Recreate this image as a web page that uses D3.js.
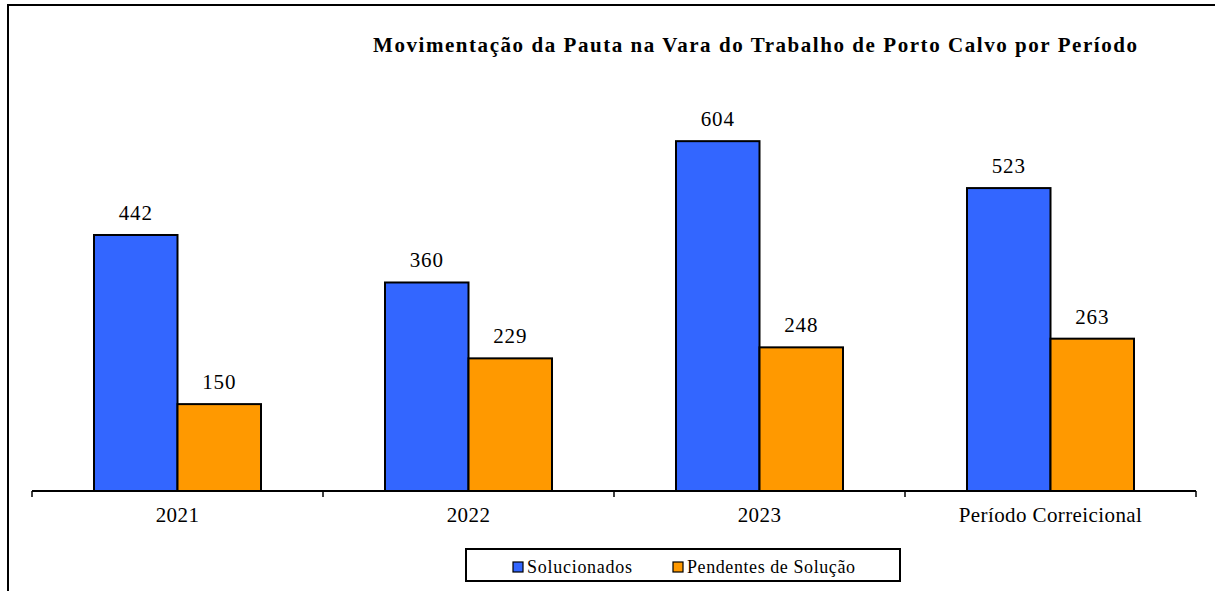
<!DOCTYPE html>
<html><head><meta charset="utf-8">
<script src="https://cdn.jsdelivr.net/npm/d3@7"></script>
<style>
body{margin:0;background:#fff}
svg{display:block}
svg text{font-family:"Times New Roman",Tinos,"Liberation Serif",serif}
</style>
</head><body>
<svg id="c" width="1215" height="591"></svg>
<script>
const categories = ["2021", "2022", "2023", "Período Correicional"];
const seriesNames = ["Solucionados", "Pendentes de Solução"];
const solucionados = [442, 360, 604, 523];
const pendentes = [150, 229, 248, 263];
const colors = ["#3366FF", "#FF9900"];
const title = "Movimentação da Pauta na Vara do Trabalho de Porto Calvo por Período";
const FONT = '"Times New Roman", Tinos, "Liberation Serif", serif';

const svg = d3.select("#c").style("font-family", FONT);
svg.append("rect").attr("x", 8).attr("y", 5).attr("width", 1215).attr("height", 600)
  .attr("fill", "none").attr("stroke", "#000").attr("stroke-width", 2);

const x0 = d3.scaleBand().domain(categories).range([32, 1196]).padding(0);
const x1 = d3.scaleBand().domain(seriesNames).range([62, 229]).padding(0);
const y = d3.scaleLinear().domain([0, 700]).range([491, 491 - 700 * 0.5792]);

svg.append("text").attr("x", 755).attr("y", 52).attr("text-anchor", "middle")
  .style("font-family", FONT).style("font-size", "21px").style("font-weight", "bold")
  .attr("textLength", 764).attr("lengthAdjust", "spacing").text(title);

const data = categories.map((c, i) => ({cat: c, vals: [solucionados[i], pendentes[i]]}));
const g = svg.selectAll("g.grp").data(data).join("g").attr("class", "grp")
  .attr("transform", d => `translate(${x0(d.cat)},0)`);
g.selectAll("rect").data(d => d.vals.map((v, j) => ({v, s: seriesNames[j], j})))
  .join("rect")
  .attr("x", d => x1(d.s)).attr("width", x1.bandwidth())
  .attr("y", d => y(d.v)).attr("height", d => y(0) - y(d.v))
  .attr("fill", d => colors[d.j]).attr("stroke", "#000").attr("stroke-width", 2);
g.selectAll("text.lbl").data(d => d.vals.map((v, j) => ({v, s: seriesNames[j], j})))
  .join("text").attr("class", "lbl")
  .attr("x", d => x1(d.s) + x1.bandwidth() / 2).attr("y", d => y(d.v) - 15)
  .attr("text-anchor", "middle").style("font-family", FONT).style("font-size", "21px")
  .style("letter-spacing", "0.8px").text(d => d.v);

const axis = svg.append("g");
axis.append("line").attr("x1", 32).attr("x2", 1196).attr("y1", y(0)).attr("y2", y(0))
  .attr("stroke", "#000").attr("stroke-width", 2);
const edges = categories.map(c => x0(c)).concat([x0.range()[1]]);
axis.selectAll("line.tick").data(edges).join("line").attr("class", "tick")
  .attr("x1", d => d).attr("x2", d => d).attr("y1", y(0)).attr("y2", y(0) + 6)
  .attr("stroke", "#000").attr("stroke-width", 1.5);
axis.selectAll("text").data(categories).join("text")
  .attr("x", d => x0(d) + x0.bandwidth() / 2).attr("y", 522)
  .attr("text-anchor", "middle").style("font-family", FONT).style("font-size", "21px")
  .style("letter-spacing", "0.4px").text(d => d);

const lg = svg.append("g");
lg.append("rect").attr("x", 466).attr("y", 549).attr("width", 434).attr("height", 32)
  .attr("fill", "#fff").attr("stroke", "#000").attr("stroke-width", 2);
const lx = [513, 673];
const lw = [105, 168];
seriesNames.forEach((s, i) => {
  lg.append("rect").attr("x", lx[i]).attr("y", 562).attr("width", 10).attr("height", 10)
    .attr("fill", colors[i]).attr("stroke", "#000").attr("stroke-width", 1.2);
  lg.append("text").attr("x", lx[i] + 14).attr("y", 573).style("font-family", FONT)
    .style("font-size", "18px").attr("textLength", lw[i]).attr("lengthAdjust", "spacing").text(s);
});
</script>
</body></html>
